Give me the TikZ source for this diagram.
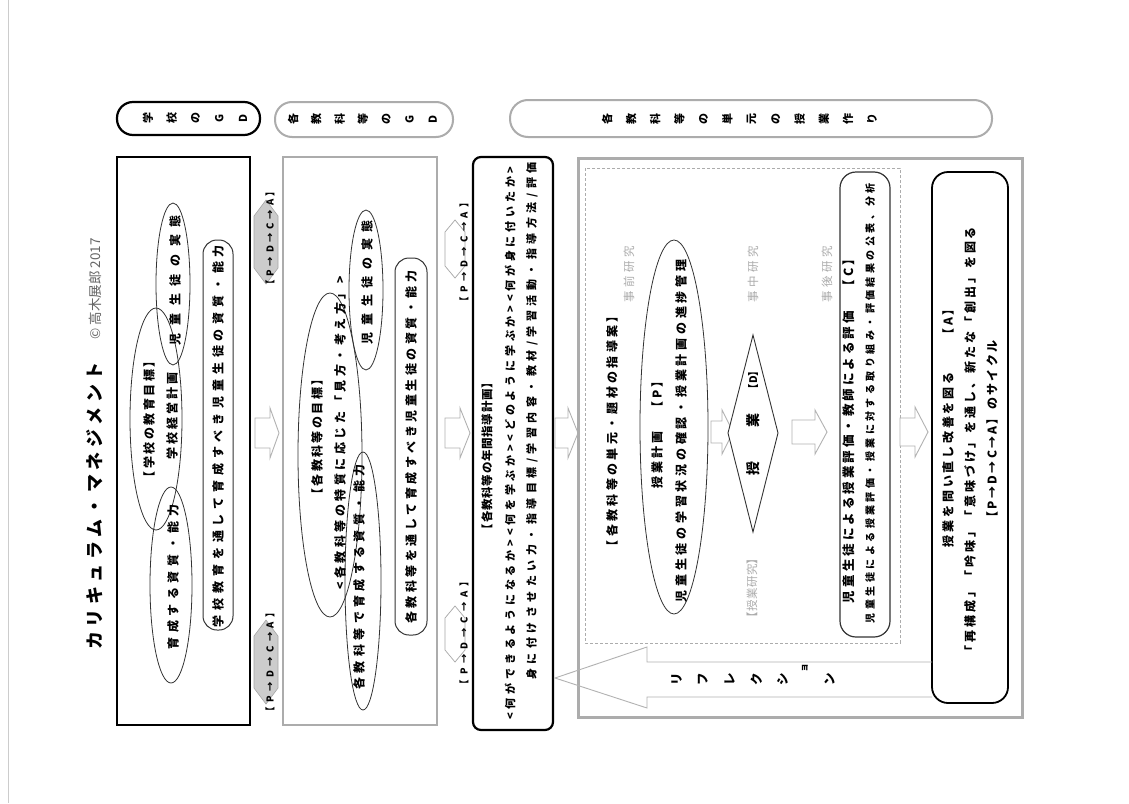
\documentclass[tikz,border=0pt]{standalone}
\usepackage{fontspec}
\setmainfont{Noto Sans CJK JP}
\makeatletter
\newcommand\Spread[2]{\hbox to #1pt{\Sp@first#2\relax}}
\def\Sp@first#1{\ifx#1\relax\else#1\expandafter\Sp@rest\fi}
\def\Sp@rest#1{\ifx#1\relax\else\hskip 0pt plus 1fil\relax#1\expandafter\Sp@rest\fi}
\makeatother
\newcommand\RArrow[6]{\draw[harrow] ({#1},{#4-#5}) -- ({#2},{#4-#5}) -- ({#2},{#4-#6}) -- ({#3},{#4}) -- ({#2},{#4+#6}) -- ({#2},{#4+#5}) -- ({#1},{#4+#5}) -- cycle;}
\begin{document}
\begin{tikzpicture}[x=1pt,y=-1pt,
  txt/.style={rotate=90,inner sep=0pt,font=\bfseries\fontsize{12}{14}\selectfont},
  fsz/.style={font=\bfseries\fontsize{#1}{#1}\selectfont},
  light/.style={rotate=90,inner sep=0pt,text=gray!65,font=\fontsize{11.5}{13}\selectfont},
  ell/.style={draw=black!80,line width=0.8},
  harrow/.style={draw=gray!60,fill=white,line width=0.9},
  rbox/.style={draw=black!80,line width=1,rounded corners=14},
  gpill/.style={draw=gray!65,line width=2},
  pdcafill/.style={draw=gray!70,fill=gray!40,line width=0.6},
  pdcaout/.style={draw=gray!70,line width=0.7}]
\useasboundingbox (0,0) rectangle (1129,803);
\fill[white] (0,0) rectangle (1129,803);
\draw[gray!40,line width=0.6] (8,0) -- (8,803);

% title
\node[txt,fsz=18] (title) at (95,506) {\Spread{287}{カリキュラム・マネジメント}};
\node[rotate=90,inner sep=0pt,text=gray!80!black,font=\fontsize{13.5}{13.5}\selectfont] (copy) at (95,289) {©\ 高木展郎 2017};

% header pills
\draw[line width=2.2,rounded corners=16] (117,102) rectangle (260,135);
\foreach \c [count=\i from 0] in {学,校,の,G,D} \node[txt,fsz=11] (pa\i) at ({148+23.75*\i},118) {\c};
\draw[gpill,rounded corners=17] (275,102) rectangle (453,137);
\foreach \c [count=\i from 0] in {各,教,科,等,の,G,D} \node[txt,fsz=11] (pb\i) at ({293+23.3*\i},119) {\c};
\draw[gpill,rounded corners=18] (510,100) rectangle (992,137);
\foreach \c [count=\i from 0] in {各,教,科,等,の,単,元,の,授,業,作,り} \node[txt,fsz=11] (pc\i) at ({607+24.1*\i},119) {\c};

% ===== box 1 : school
\draw[line width=1.6] (117,157) rectangle (250,725);
\draw[ell] (173,284) ellipse [x radius=17,y radius=81];
\draw[ell] (156,419) ellipse [x radius=26,y radius=111];
\draw[ell] (171,585) ellipse [x radius=21,y radius=98];
\node[txt] (s1) at (175,280) {\Spread{130}{児童生徒の実態}};
\node[txt] (s2) at (149,419) {\Spread{128}{【学校の教育目標】}};
\node[txt] (s3) at (172,416) {\Spread{87}{学校経営計画}};
\node[txt] (s4) at (173,577) {\Spread{145}{育成する資質・能力}};
\draw[rbox] (203,240) rectangle (233,630);
\node[txt] (s5) at (218,436) {\Spread{382}{学校教育を通して育成すべき児童生徒の資質・能力}};

% PDCA labels near box 1
\draw[pdcafill] (266,200) -- (278,216) -- (278,268) -- (266,284) -- (254,268) -- (254,216) -- cycle;
\node[txt,fsz=9.5] (pd1) at (270,238) {\Spread{103}{【P→D→C→A】}};
\draw[pdcafill] (266,620) -- (278,636) -- (278,688) -- (266,704) -- (254,688) -- (254,636) -- cycle;
\node[txt,fsz=9.5] (pd2) at (270,662) {\Spread{108}{【P→D→C→A】}};

\RArrow{255}{270}{279}{433}{15}{25}

% ===== box 2 : subjects
\draw[gray!65,line width=2] (283,157) rectangle (437,725);
\draw[ell] (330,455) ellipse [x radius=32,y radius=162];
\draw[ell] (366,290) ellipse [x radius=17,y radius=80];
\draw[ell] (363,581) ellipse [x radius=18,y radius=129];
\node[txt] (k1) at (367,282) {\Spread{124}{児童生徒の実態}};
\node[txt] (k2) at (317,437) {\Spread{127}{【各教科等の目標】}};
\node[txt] (k3) at (340,433) {\Spread{313}{<各教科等の特質に応じた「見方・考え方」>}};
\node[txt] (k4) at (359,577) {\Spread{225}{各教科等で育成する資質・能力}};
\draw[rbox] (395,258) rectangle (427,635);
\node[txt] (k5) at (411,447) {\Spread{353}{各教科等を通して育成すべき児童生徒の資質・能力}};

\RArrow{445}{460}{470}{433}{15}{25}

% PDCA labels near box 3
\draw[pdcaout] (455,220) -- (465,232) -- (465,266) -- (455,278) -- (445,266) -- (445,232) -- cycle;
\node[txt,fsz=9.5] (pd3) at (464,252) {\Spread{108}{【P→D→C→A】}};
\draw[pdcaout] (455,606) -- (465,618) -- (465,650) -- (455,662) -- (445,650) -- (445,618) -- cycle;
\node[txt,fsz=9.5] (pd4) at (464,633) {\Spread{112}{【P→D→C→A】}};

% ===== box 3 : annual plan
\draw[line width=2.2,rounded corners=8] (473,157) rectangle (553,730);
\node[txt,fsz=11.5] (y1) at (487,456) {\Spread{158}{【各教科等の年間指導計画】}};
\node[txt,fsz=11] (y2) at (510,443) {\Spread{553}{<何ができるようになるか><何を学ぶか><どのように学ぶか><何が身に付いたか>}};
\node[txt,fsz=11] (y3) at (532,421) {\Spread{517}{身に付けさせたい力・指導目標/学習内容・教材/学習活動・指導方法/評価}};

\RArrow{555}{568}{578}{433}{15}{25}

% ===== box 4 : unit lesson
\draw[gray!65,line width=3] (578,158) rectangle (1022,717);
\draw[gray!65,line width=0.8,dash pattern=on 3pt off 2pt] (585,168) rectangle (900,643);
\node[txt] (u1) at (612,431) {\Spread{242}{【各教科等の単元・題材の指導案】}};
\node[light] (r1) at (629,274) {\Spread{56}{事前研究}};
\node[light] (r2) at (753,274) {\Spread{56}{事中研究}};
\node[light] (r3) at (827,274) {\Spread{56}{事後研究}};
\node[light] (r4) at (752,588) {\Spread{71}{【授業研究】}};

\draw[ell] (674,427) ellipse [x radius=34,y radius=187];
\node[txt] (p1) at (657,432) {\Spread{113}{授業計画　【P】}};
\node[txt] (p2) at (681,431) {\Spread{343}{児童生徒の学習状況の確認・授業計画の進捗管理}};

\RArrow{711}{722}{733}{432}{11}{22}
\draw[black!80,line width=0.9,fill=white] (753,335) -- (778,433) -- (753,532) -- (728,433) -- cycle;
\node[txt,fsz=14] (d1) at (753,468) {授};
\node[txt,fsz=14] (d2) at (753,420) {業};
\node[txt,fsz=10.5] (d3) at (753,380) {【D】};

\RArrow{792}{815}{827}{432}{12}{22}

\draw[black!80,line width=1.2,rounded corners=16] (840,172) rectangle (890,637);
\node[txt,fsz=12.5] (c1) at (849,428) {\Spread{350}{児童生徒による授業評価・教師による評価　【C】}};
\node[txt,fsz=10] (c2) at (870,403) {\Spread{440}{児童生徒による授業評価・授業に対する取り組み・評価結果の公表、分析}};

\RArrow{900}{915}{928}{432}{14}{25}

\draw[line width=1.8,rounded corners=16] (932,172) rectangle (1008,703);
\node[txt] (a1) at (948,425) {\Spread{244}{授業を問い直し改善を図る　　【A】}};
\node[txt] (a2) at (970,442) {\Spread{430}{「再構成」「吟味」「意味づけ」を通し、新たな「創出」を図る}};
\node[txt] (a3) at (992,432) {\Spread{183}{【P→D→C→A】のサイクル}};

% reflection arrow
\coordinate (rtip) at (555,678);
\draw[gray!60,line width=0.9] (932,662) -- (647,662) -- (647,647) -- (rtip) -- (647,708) -- (647,697) -- (932,697);
\foreach \c/\x in {リ/677,フ/703,レ/730,ク/757,シ/783,ン/830} \node[txt,fsz=12.5] at (\x,679) {\c};
\node[txt,fsz=9] (ryo) at (805,668) {ョ};
\end{tikzpicture}
\end{document}
